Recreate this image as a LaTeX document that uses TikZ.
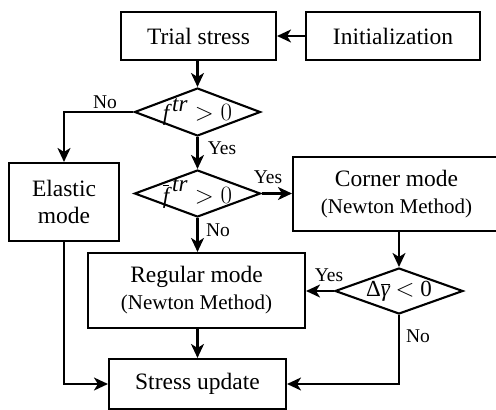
\documentclass[tikz,border=0pt]{standalone}
\usepackage{fontspec}
\setmainfont{Liberation Serif}
\usetikzlibrary{arrows.meta,shapes.geometric}
\begin{document}
\begin{tikzpicture}[x=1pt,y=-1pt,
  box/.style={draw,line width=2.1pt,inner sep=0pt,align=center,font=\fontsize{23.5}{27}\selectfont},
  dec/.style={draw,diamond,line width=2.1pt,inner sep=0pt},
  dtext/.style={font=\fontsize{23}{26}\selectfont,inner sep=0pt},
  lbl/.style={font=\fontsize{19.5}{22}\selectfont,inner sep=0pt},
  arr/.style={line width=2.1pt,-{Stealth[length=14pt,width=13pt,inset=4pt]}}]
\useasboundingbox (0,0) rectangle (496,410);
\node[box,minimum width=155pt,minimum height=48pt] (trial) at (198.5,36) {Trial stress};
\node[box,minimum width=174pt,minimum height=48pt] (init) at (393,36) {Initialization};
\node[dec,minimum width=126pt,minimum height=48pt] (d1) at (197.5,112) {};
\node[dtext] (t1) at (d1.center) {$\textit{f}^{\,\textit{tr}} > 0$};
\node[dec,minimum width=126pt,minimum height=47pt] (d2) at (197.5,193.5) {};
\node[dtext] (t2) at (d2.center) {$\overline{\textit{f}}^{\,\textit{tr}} > 0$};
\node[box,minimum width=110pt,minimum height=78pt] (elastic) at (64,202) {Elastic\\mode};
\node[box,minimum width=207pt,minimum height=74pt] (corner) at (396.5,194) {Corner mode\\{\fontsize{21}{24}\selectfont (Newton Method)}};
\node[dec,minimum width=128pt,minimum height=46pt] (d3) at (399,291) {};
\node[dtext] (t3) at (d3.center) {Δ$\overline{\textit{γ}}$ $<$ 0};
\node[box,minimum width=217pt,minimum height=75pt] (regular) at (196.5,290.5) {Regular mode\\{\fontsize{21}{24}\selectfont (Newton Method)}};
\node[box,minimum width=177pt,minimum height=50pt] (stress) at (197.5,384) {Stress update};
\draw[arr] (init.west) -- (trial.east);
\draw[arr] (d1.north |- trial.south) -- (d1.north);
\draw[arr] (d1.west) -| (elastic.north);
\draw[arr] (d1.south) -- (d2.north);
\draw[arr] (d2.east) -- (d2.east -| corner.west);
\draw[arr] (d2.south) -- (d2.south |- regular.north);
\draw[arr] (d3.north |- corner.south) -- (d3.north);
\draw[arr] (d3.west) -- (d3.west -| regular.east);
\draw[arr] (d3.south) |- (stress.east);
\draw[arr] (d2.south |- regular.south) -- (d2.south |- stress.north);
\draw[arr] (elastic.south) |- (stress.west);
\node[lbl] (l1) at (105,102) {No};
\node[lbl] (l2) at (222,148) {Yes};
\node[lbl] (l3) at (268,177) {Yes};
\node[lbl] (l4) at (218,230) {No};
\node[lbl] (l5) at (329,275) {Yes};
\node[lbl] (l6) at (418,336) {No};
\end{tikzpicture}
\end{document}
